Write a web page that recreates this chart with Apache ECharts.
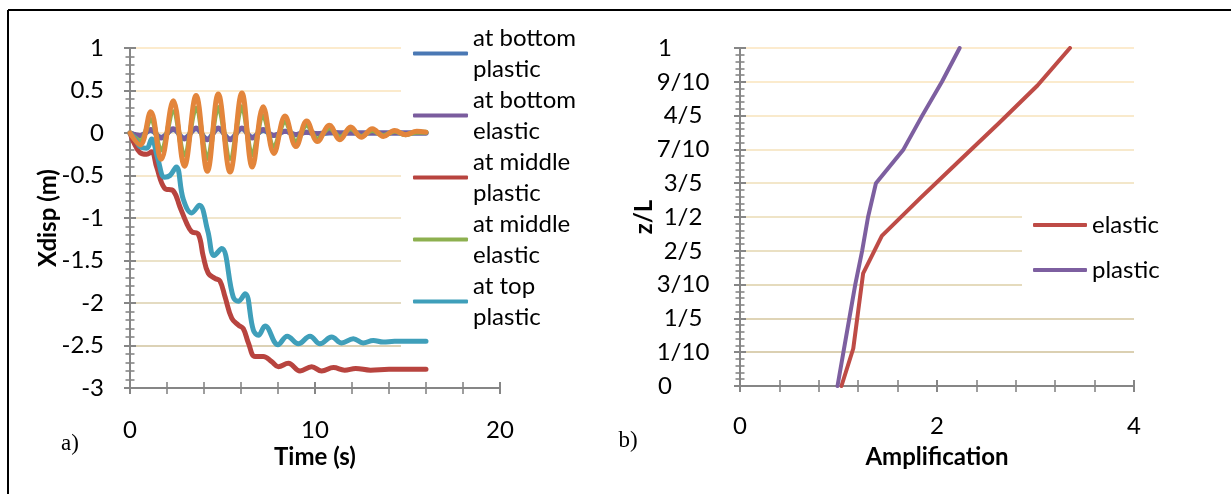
<!DOCTYPE html>
<html><head><meta charset="utf-8">
<script src="https://cdn.jsdelivr.net/npm/echarts@6/dist/echarts.min.js"></script>
<style>html,body{margin:0;padding:0;background:#fff}#c{width:1231px;height:494px}</style>
</head><body><div id="c"></div>
<script>
// ---------- data ----------
const legendNamesA = ['at bottom\nplastic', 'at bottom\nelastic', 'at middle\nplastic', 'at middle\nelastic', 'at top\nplastic'];
const orangeName = 'at top\nelastic';

// times of the oscillation extrema (s)
const oscTime = [0, 0.55, 1.12, 1.68, 2.34, 2.94, 3.57, 4.18, 4.77, 5.41, 6.05, 6.61, 7.2, 7.78, 8.38, 8.97, 9.55, 10.13, 10.78, 11.35, 11.93, 12.5, 13.1, 13.7, 14.3, 14.9, 15.5, 16];
const bottomPlastic = [0, -0.03, 0.03, -0.05, 0.04, -0.06, 0.05, -0.07, 0.05, -0.07, 0.05, -0.05, 0.03, -0.03, 0.02, -0.02, 0.01, -0.01, 0, 0, 0, 0, 0, 0, 0, 0, 0, 0];
const bottomElastic = [0, -0.03, 0.04, -0.06, 0.05, -0.07, 0.06, -0.08, 0.06, -0.08, 0.06, -0.06, 0.04, -0.03, 0.02, -0.02, 0.01, -0.01, 0.01, 0, 0, 0, 0, 0, 0, 0, 0, 0];
const middleElastic = [0, -0.09, 0.16, -0.20, 0.25, -0.26, 0.29, -0.30, 0.30, -0.30, 0.31, -0.26, 0.20, -0.16, 0.13, -0.10, 0.09, -0.07, 0.06, -0.05, 0.05, -0.04, 0.03, -0.03, 0.02, -0.02, 0.01, 0.01];
const topElastic = [0, -0.14, 0.25, -0.31, 0.38, -0.39, 0.44, -0.45, 0.46, -0.46, 0.47, -0.40, 0.31, -0.24, 0.20, -0.16, 0.14, -0.10, 0.09, -0.08, 0.07, -0.05, 0.05, -0.04, 0.03, -0.02, 0.02, 0.01];

const middlePlasticTime = [0, 0.18, 0.54, 0.9, 1.17, 1.44, 1.87, 2.34, 2.7, 3.06, 3.33, 3.69, 3.96, 4.23, 4.59, 4.86, 5.14, 5.5, 5.86, 6.12, 6.4, 6.76, 7.2, 7.66, 8.02, 8.56, 9.19, 9.82, 10.36, 11.0, 11.6, 12.2, 13, 14, 15, 16];
const middlePlastic = [0, -0.10, -0.23, -0.25, -0.22, -0.40, -0.65, -0.68, -0.87, -1.06, -1.16, -1.19, -1.45, -1.65, -1.71, -1.74, -1.93, -2.18, -2.26, -2.30, -2.47, -2.63, -2.63, -2.69, -2.75, -2.71, -2.80, -2.75, -2.80, -2.76, -2.79, -2.77, -2.79, -2.78, -2.78, -2.78];

const topPlasticTime = [0, 0.3, 0.54, 0.9, 1.17, 1.5, 1.87, 2.16, 2.5, 2.88, 3.33, 3.75, 4.2, 4.55, 4.95, 5.58, 5.85, 6.22, 6.67, 6.94, 7.3, 8.0, 8.5, 9.1, 9.73, 10.27, 10.9, 11.44, 12.07, 12.6, 13.15, 13.69, 14.3, 15, 16];
const topPlastic = [0, -0.08, -0.16, -0.18, -0.07, -0.30, -0.52, -0.50, -0.40, -0.78, -0.94, -0.85, -1.15, -1.44, -1.36, -1.93, -1.98, -1.89, -2.32, -2.38, -2.27, -2.49, -2.39, -2.48, -2.39, -2.48, -2.40, -2.47, -2.42, -2.47, -2.44, -2.46, -2.45, -2.45, -2.45];

const zElastic = [0, 0.111, 0.222, 0.333, 0.444, 0.556, 0.667, 0.778, 0.889, 1];
const ampElastic = [1.03, 1.15, 1.20, 1.25, 1.44, 1.83, 2.23, 2.63, 3.02, 3.35];
const zPlastic = [0, 0.1, 0.2, 0.3, 0.4, 0.5, 0.6, 0.7, 0.8, 0.9, 1];
const ampPlastic = [0.99, 1.05, 1.11, 1.17, 1.24, 1.30, 1.38, 1.66, 1.85, 2.05, 2.23];

const zTickLabels = ['0', '1/10', '1/5', '3/10', '2/5', '1/2', '3/5', '7/10', '4/5', '9/10', '1'];

// ---------- styling ----------
const FONT = 'Lato';
const FS = 24;
const AX = '#868686';
const C = {blue:'#4A78B4', purple:'#7A5C9E', red:'#B8443F', green:'#8DB04F', aqua:'#3F9FBA', orange:'#E3853B'};
const gridColsA = ['#d8cdae', '#dcd2b6', '#e4dbc1', '#ebe2c8', '#f1e6cc', '#f6e8cc', '#f9e9cc', '#fbeacc', '#fcebcd'];
const gridColsB = ['#d8cdae', '#dbd0b2', '#dfd4b6', '#e5dbbd', '#eae0c3', '#efe4c7', '#f3e7ca', '#f7e9cc', '#f9eacc', '#fbebcd', '#fcebce'];

const zip = (a, b) => a.map((v, i) => [v, b[i]]);

function axisPair(o) {
  const main = {
    type: 'value', gridIndex: o.gridIndex, min: o.min, max: o.max, interval: o.interval,
    position: o.isY ? 'left' : 'bottom',
    axisLine: {show: true, onZero: false, lineStyle: {color: AX, width: 2}},
    axisTick: {show: true, length: o.tickLen, lineStyle: {color: AX, width: 2}},
    minorTick: {show: true, splitNumber: o.split, length: o.minorLen, lineStyle: {color: AX, width: 1.6}},
    axisLabel: {show: true, margin: o.labelMargin, fontSize: FS, fontFamily: FONT, color: '#000', formatter: o.formatter, rich: o.rich},
    splitLine: {show: !!o.splitColors, lineStyle: {color: o.splitColors || '#ccc', width: 2}},
    name: o.name, nameLocation: 'middle', nameGap: o.nameGap, nameMoveOverlap: false,
    nameTextStyle: {fontSize: FS, fontFamily: FONT, fontWeight: 'bold', color: '#000', lineHeight: 31}
  };
  const dup = {
    type: 'value', gridIndex: o.gridIndex, min: o.min, max: o.max, interval: o.interval,
    position: o.isY ? 'left' : 'bottom',
    axisLine: {show: false, onZero: false},
    axisTick: {show: true, inside: true, length: o.tickLen, lineStyle: {color: AX, width: 2}},
    minorTick: {show: true, splitNumber: o.split, length: o.minorLen, lineStyle: {color: AX, width: 1.6}},
    axisLabel: {show: false}, splitLine: {show: false}
  };
  return [main, dup];
}

const xA = axisPair({gridIndex: 0, min: 0, max: 20, interval: 10, split: 5, tickLen: 6, minorLen: 6, labelMargin: 30, name: 'Time (s)', nameGap: 54});
const xB = axisPair({gridIndex: 1, min: 0, max: 4, interval: 2, split: 5, tickLen: 6, minorLen: 6, labelMargin: 28, name: 'Amplification', nameGap: 56});
const yA = axisPair({gridIndex: 0, min: -3, max: 1, interval: 0.5, split: 5, tickLen: 6, minorLen: 4.5, labelMargin: 26, splitColors: gridColsA, name: 'Xdisp (m)', nameGap: 66, isY: true});
const rs = {fontSize: FS, fontFamily: FONT, color: '#000'};
const yB = axisPair({gridIndex: 1, min: 0, max: 1, interval: 0.1, split: 5, tickLen: 6, minorLen: 4.5, labelMargin: 32, splitColors: gridColsB, name: 'z/L', nameGap: 80, isY: true,
  formatter: function (v) {
    const s = zTickLabels[Math.round(v * 10)];
    return s.indexOf('/') >= 0 ? '{f|' + s + '}' : '{i|' + s + '}';
  },
  rich: {f: Object.assign({width: 50, align: 'center'}, rs), i: Object.assign({width: 50, align: 'left'}, rs)}
});

function lineSeries(name, data, color, xi, yi, width, smooth) {
  return {type: 'line', name: name, data: data, xAxisIndex: xi, yAxisIndex: yi, symbol: 'none', showSymbol: false,
    smooth: smooth, color: color, lineStyle: {color: color, width: width, cap: 'round', join: 'round'}, itemStyle: {color: color}, emphasis: {disabled: true}};
}

const option = {
  animation: false,
  backgroundColor: '#fff',
  grid: [
    {left: 130, top: 48, width: 370, height: 340, outerBoundsMode: 'none', containLabel: false},
    {left: 740, top: 48, width: 394, height: 338, outerBoundsMode: 'none', containLabel: false}
  ],
  xAxis: [xA[0], xA[1], xB[0], xB[1]],
  yAxis: [yA[0], yA[1], yB[0], yB[1]],
  legend: [
    {data: legendNamesA, orient: 'vertical', left: 401, top: 7, padding: [0, 12, 8, 12], itemWidth: 55, itemHeight: 4, itemGap: -31,
      icon: 'roundRect', backgroundColor: '#fff', z: 1, selectedMode: false,
      textStyle: {fontSize: FS, fontFamily: FONT, color: '#000', lineHeight: 31, padding: [31, 0, 0, 0]}},
    {data: ['elastic', 'plastic'], orient: 'vertical', left: 1022, top: 200, padding: [9.5, 10, 14, 11], itemWidth: 54, itemHeight: 4, itemGap: 14,
      icon: 'roundRect', backgroundColor: '#fff', z: 1, selectedMode: false,
      textStyle: {fontSize: FS, fontFamily: FONT, color: '#000', lineHeight: 31}}
  ],
  series: [
    lineSeries(legendNamesA[0], zip(oscTime, bottomPlastic), C.blue, 0, 0, 5, 0.4),
    lineSeries(legendNamesA[1], zip(oscTime, bottomElastic), C.purple, 0, 0, 5, 0.4),
    lineSeries(legendNamesA[2], zip(middlePlasticTime, middlePlastic), C.red, 0, 0, 5, 0.4),
    lineSeries(legendNamesA[3], zip(oscTime, middleElastic), C.green, 0, 0, 5, 0.4),
    lineSeries(legendNamesA[4], zip(topPlasticTime, topPlastic), C.aqua, 0, 0, 5, 0.4),
    lineSeries(orangeName, zip(oscTime, topElastic), C.orange, 0, 0, 5, 0.4),
    lineSeries('elastic', zip(ampElastic, zElastic), '#BE4B46', 2, 2, 4, false),
    lineSeries('plastic', zip(ampPlastic, zPlastic), '#7D5FA0', 2, 2, 4, false)
  ],
  graphic: [
    {type: 'line', z: 100, shape: {x1: 8, y1: 10, x2: 1231, y2: 10}, style: {stroke: '#000', lineWidth: 2}},
    {type: 'line', z: 100, shape: {x1: 8, y1: 10, x2: 8, y2: 494}, style: {stroke: '#000', lineWidth: 2}},
    {type: 'text', z: 100, style: {text: 'a)', x: 70, y: 444, align: 'center', verticalAlign: 'middle', fontSize: 23, fontFamily: 'Liberation Serif', fill: '#000'}},
    {type: 'text', z: 100, style: {text: 'b)', x: 628, y: 441, align: 'center', verticalAlign: 'middle', fontSize: 23, fontFamily: 'Liberation Serif', fill: '#000'}}
  ]
};

const chart = echarts.init(document.getElementById('c'), null, {renderer: 'canvas'});
chart.setOption(option);
</script>
</body></html>
